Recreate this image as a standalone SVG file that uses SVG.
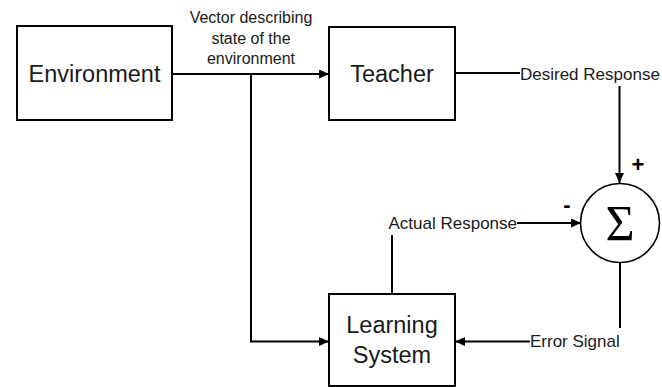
<svg xmlns="http://www.w3.org/2000/svg" width="662" height="387" viewBox="0 0 662 387">
  <style>
    .box { fill: #ffffff; stroke: #000000; stroke-width: 2; }
    .sum { fill: #ffffff; stroke: #000000; stroke-width: 1.6; }
    .wire { fill: none; stroke: #000000; stroke-width: 2; }
    .big { font-family: "Liberation Sans", Arial, sans-serif; font-size: 23.5px; fill: #1a1a1a; text-anchor: middle; }
    .lbl { font-family: "Liberation Sans", Arial, sans-serif; font-size: 17px; fill: #1a1a1a; }
    .note { font-family: "Liberation Sans", Arial, sans-serif; font-size: 16px; fill: #1a1a1a; text-anchor: middle; }
    .sign { font-family: "Liberation Sans", Arial, sans-serif; font-weight: bold; fill: #000000; text-anchor: middle; }
  </style>
  <defs>
    <marker id="arrow" markerUnits="userSpaceOnUse" markerWidth="11" markerHeight="10" refX="10" refY="4.5" orient="auto">
      <path d="M0,0 L10,4.5 L0,9 Z" fill="#000000"/>
    </marker>
  </defs>

  <rect width="662" height="387" fill="#ffffff"/>

  <!-- connectors -->
  <g id="connectors">
    <path class="wire" d="M172,74 H329" marker-end="url(#arrow)"/>
    <path class="wire" d="M251,74 V341.5 H329" marker-end="url(#arrow)"/>
    <path class="wire" d="M455,73 H520"/>
    <path class="wire" d="M619.5,86 V183" marker-end="url(#arrow)"/>
    <path class="wire" d="M392,294 V235"/>
    <path class="wire" d="M517,223 H581" marker-end="url(#arrow)"/>
    <path class="wire" d="M620,263 V328"/>
    <path class="wire" d="M530,341.5 H455" marker-end="url(#arrow)"/>
  </g>

  <!-- edge labels -->
  <g id="labels">
    <text class="note" x="251" y="23">Vector describing</text>
    <text class="note" x="251" y="43.5">state of the</text>
    <text class="note" x="251" y="64">environment</text>
    <text class="lbl" x="520" y="80">Desired Response</text>
    <text class="lbl" x="517" y="229" text-anchor="end">Actual Response</text>
    <text class="lbl" x="530" y="347">Error Signal</text>
    <text class="sign" x="638" y="172" font-size="22">+</text>
    <text class="sign" x="567" y="212" font-size="22">-</text>
  </g>

  <g id="environment">
    <rect class="box" x="17" y="26" width="155" height="94"/>
    <text class="big" x="94.5" y="82">Environment</text>
  </g>

  <g id="teacher">
    <rect class="box" x="329" y="27" width="126" height="93"/>
    <text class="big" x="392" y="82">Teacher</text>
  </g>

  <g id="learning-system">
    <rect class="box" x="329" y="294" width="126" height="92"/>
    <text class="big" x="392" y="333">Learning</text>
    <text class="big" x="392" y="363">System</text>
  </g>

  <g id="summing-junction">
    <circle class="sum" cx="620" cy="223" r="39.5"/>
    <text x="620" y="240" font-family="'Liberation Serif', 'Times New Roman', serif" font-size="50" text-anchor="middle" fill="#000000">Σ</text>
  </g>
</svg>
